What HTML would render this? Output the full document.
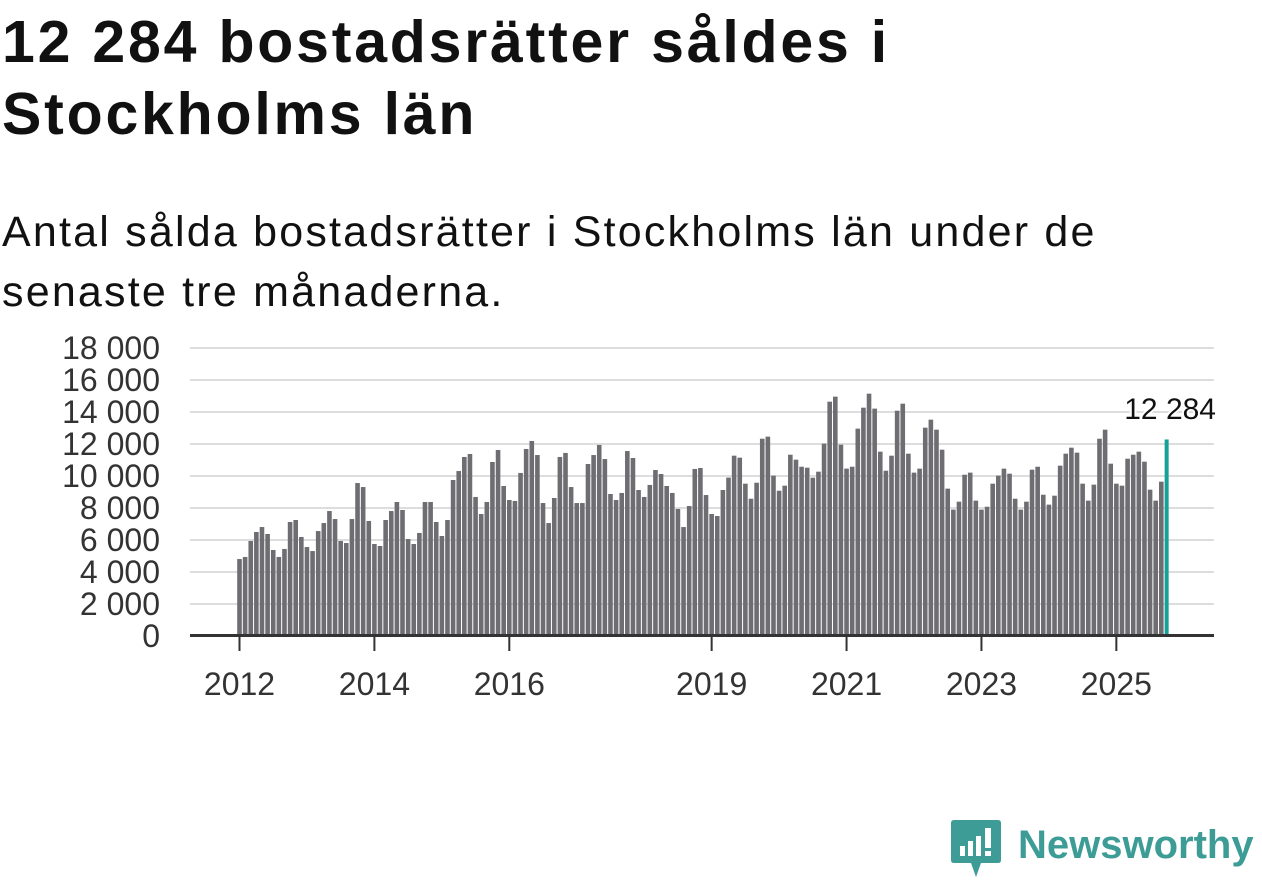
<!DOCTYPE html>
<html><head><meta charset="utf-8"><style>
body{margin:0;width:1262px;height:879px;background:#fff;overflow:hidden;font-family:"Liberation Sans",sans-serif;}
h1{position:absolute;left:2px;top:6px;margin:0;font-size:59px;line-height:72px;font-weight:bold;color:#111;width:940px;letter-spacing:2.8px;}
p{position:absolute;left:2px;top:202px;margin:0;font-size:43px;line-height:60px;color:#111;width:1150px;letter-spacing:2.2px;}
svg{position:absolute;left:0;top:0;}
</style></head><body>
<h1>12 284 bostadsrätter såldes i Stockholms län</h1>
<p>Antal sålda bostadsrätter i Stockholms län under de senaste tre månaderna.</p>
<svg id="chart" width="1262" height="879"></svg>
<div style="position:absolute;left:951px;top:820px;width:310px;height:60px;">
<svg width="50" height="58" style="left:0;top:0">
<path d="M3 0H47Q50 0 50 3V40Q50 43 47 43H30L25 57L20 43H3Q0 43 0 40V3Q0 0 3 0Z" fill="#3d9d96"/>
<rect x="9" y="26" width="5" height="10" fill="#fff"/><rect x="17" y="21" width="5" height="15" fill="#fff"/><rect x="25" y="16" width="5" height="20" fill="#fff"/><rect x="34" y="8" width="6" height="20" fill="#fff"/><rect x="34" y="31" width="6" height="5" fill="#fff"/>
</svg>
<div style="position:absolute;left:67px;top:0px;font-size:40px;font-weight:bold;color:#3d9d96;line-height:50px;">Newsworthy</div>
</div>
<script>
const values=[4810,4940,5940,6500,6810,6375,5375,4940,5440,7125,7250,6190,5560,5310,6560,7060,7810,7310,5940,5810,7310,9560,9310,7190,5750,5625,7250,7810,8375,7875,6060,5750,6440,8375,8375,7125,6250,7250,9750,10310,11190,11375,8690,7625,8375,10875,11625,9375,8500,8440,10190,11690,12190,11310,8310,7060,8625,11190,11440,9310,8310,8310,10750,11310,11940,11060,8875,8500,8940,11560,11125,9125,8690,9440,10375,10125,9375,8940,7940,6810,8125,10440,10500,8810,7625,7500,9125,9900,11270,11145,9520,8580,9580,12330,12460,10020,9080,9395,11330,11020,10580,10520,9895,10270,12020,14645,14960,11960,10460,10580,12960,14270,15145,14210,11520,10330,11270,14080,14520,11395,10210,10460,13020,13520,12895,11645,9210,7900,8395,10080,10210,8460,7900,8080,9520,10020,10460,10145,8580,7900,8395,10395,10580,8830,8210,8770,10645,11395,11770,11460,9520,8460,9460,12330,12895,10770,9520,9395,11080,11330,11520,10895,9145,8460,9645,12284];
const startYear=2012;
const yTicks=[0,2000,4000,6000,8000,10000,12000,14000,16000,18000];
const yTickLabels=["0","2 000","4 000","6 000","8 000","10 000","12 000","14 000","16 000","18 000"];
const xTickYears=[2012,2014,2016,2019,2021,2023,2025];
const NS="http://www.w3.org/2000/svg";
const svg=document.getElementById('chart');
const y=v=>636-v*0.016;
const x=m=>239.5+m*(67.45/12);
function mk(t,a){const e=document.createElementNS(NS,t);for(const k in a)e.setAttribute(k,a[k]);svg.appendChild(e);return e;}
yTicks.forEach((t,i)=>{
 if(t>0){const g=mk('line',{x1:190,x2:1214,y1:y(t),y2:y(t),stroke:'#dddddd','stroke-width':2});
 
 }
 const l=mk('text',{x:160,y:y(t)+11,'text-anchor':'end','font-size':32,fill:'#333'});
 l.textContent=yTickLabels[i];
 
 
});
values.forEach((v,i)=>{
 const last=i===values.length-1;
 const b=mk('rect',{x:x(i)-2.3,y:y(v),width:last?4:4.6,height:636-y(v),fill:last?'#17a097':'#6e6d72'});
 
 
});
const ax=mk('line',{x1:190,x2:1214,y1:635.5,y2:635.5,stroke:'#333','stroke-width':3});


xTickYears.forEach(yr=>{
 const xx=x((yr-startYear)*12);
 mk('line',{x1:xx,x2:xx,y1:636,y2:651,stroke:'#333','stroke-width':2});
 const t=mk('text',{x:xx,y:695,'text-anchor':'middle','font-size':32,fill:'#333'});
 t.textContent=yr;
 
 
});
const li=values.length-1;
const lb=mk('text',{x:1216,y:419,'text-anchor':'end','font-size':30,fill:'#111',stroke:'#fff','stroke-width':4,'paint-order':'stroke'});
lb.textContent=values[li].toLocaleString('sv-SE').replace(/\s/g,' ');


</script>
</body></html>
